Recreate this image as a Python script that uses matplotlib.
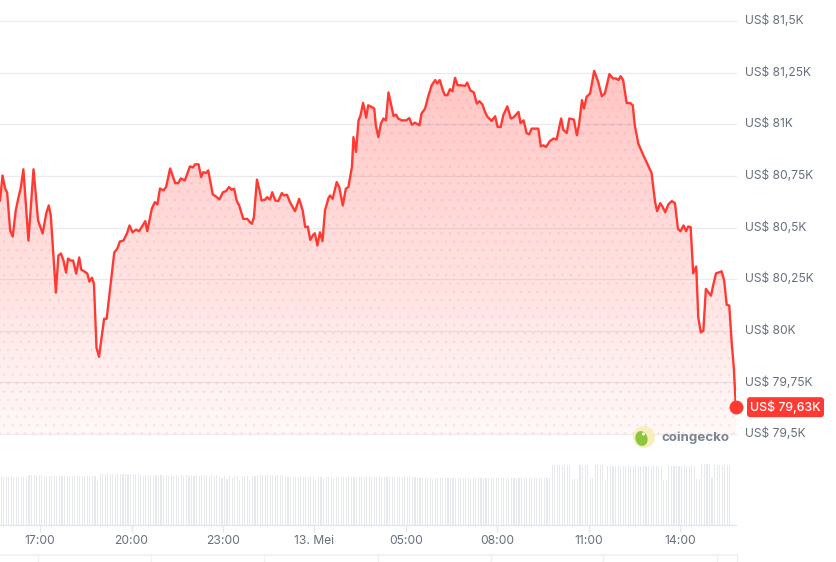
import numpy as np
import matplotlib
matplotlib.use("Agg")
import matplotlib.pyplot as plt
from matplotlib.patches import Polygon, Circle, FancyBboxPatch, Ellipse
from matplotlib.transforms import IdentityTransform, blended_transform_factory
from matplotlib.lines import Line2D

plt.rcParams['font.family'] = ['Inter', 'DejaVu Sans']

# ---------------- data ----------------
# minutes since 12 May 15:41
price_minutes = [
    0, 5, 10, 14, 20, 25, 31, 36, 41, 46,
    56, 66, 75, 84, 91, 96, 100, 110, 115, 120,
    125, 130, 134, 139, 144, 150, 156, 160, 167, 172,
    176, 181, 185, 190, 195, 200, 205, 210, 218, 225,
    231, 236, 243, 250, 255, 261, 268, 274, 286, 290,
    299, 305, 310, 315, 322, 327, 335, 345, 351, 356,
    364, 374, 380, 384, 391, 396, 400, 406, 410, 419,
    425, 432, 439, 445, 451, 456, 461, 466, 471, 479,
    487, 492, 496, 500, 506, 511, 515, 522, 526, 532,
    536, 542, 548, 555, 559, 565, 571, 581, 589, 596,
    601, 606, 611, 617, 620, 625, 630, 635, 640, 647,
    650, 655, 663, 668, 675, 681, 686, 693, 696, 701,
    706, 710, 715, 721, 725, 732, 737, 740, 745, 750,
    755, 760, 765, 769, 775, 780, 784, 791, 800, 806,
    811, 817, 826, 830, 837, 843, 850, 857, 861, 866,
    872, 876, 881, 886, 891, 896, 901, 907, 916, 920,
    926, 933, 939, 944, 950, 955, 960, 965, 968, 975,
    980, 986, 991, 999, 1006, 1011, 1021, 1025, 1031, 1037,
    1042, 1047, 1060, 1065, 1070, 1075, 1083, 1090, 1096, 1105,
    1109, 1116, 1121, 1130, 1136, 1140, 1146, 1150, 1155, 1162,
    1170, 1178, 1185, 1191, 1200, 1207, 1213, 1218, 1222, 1227,
    1234, 1241, 1246, 1250, 1257, 1264, 1270, 1277, 1283, 1290,
    1294, 1300, 1305, 1310, 1316, 1323, 1329, 1335, 1340, 1346,
    1351, 1355, 1360, 1365, 1371, 1375, 1380, 1385, 1390, 1395,
    1400, 1405, 1410, 1416, 1421, 1426, 1431, 1436, 1441, 1445,
    1449,
]
price_usd = [
    80631, 80752, 80689, 80670, 80486, 80456, 80583, 80641, 80694, 80782,
    80437, 80782, 80534, 80471, 80568, 80607, 80558, 80185, 80364, 80374,
    80340, 80282, 80350, 80340, 80340, 80277, 80355, 80296, 80286, 80277,
    80238, 80257, 80228, 79918, 79874, 79966, 80058, 80058, 80228, 80379,
    80398, 80432, 80437, 80471, 80510, 80477, 80490, 80482, 80531, 80482,
    80592, 80623, 80612, 80689, 80680, 80696, 80786, 80715, 80715, 80738,
    80728, 80796, 80791, 80806, 80806, 80744, 80768, 80764, 80777, 80660,
    80651, 80636, 80671, 80676, 80696, 80683, 80688, 80631, 80607, 80542,
    80542, 80526, 80518, 80550, 80732, 80680, 80631, 80635, 80647, 80635,
    80671, 80631, 80628, 80667, 80655, 80659, 80623, 80579, 80639, 80583,
    80502, 80505, 80440, 80466, 80472, 80413, 80477, 80434, 80583, 80644,
    80655, 80639, 80720, 80696, 80607, 80688, 80696, 80793, 80938, 80866,
    81019, 81044, 81104, 81032, 81092, 81084, 81076, 80995, 80938, 81003,
    81028, 81019, 81154, 81108, 81040, 81047, 81028, 81019, 81019, 81030,
    80998, 81008, 80995, 81052, 81076, 81133, 81189, 81214, 81198, 81214,
    81165, 81141, 81141, 81170, 81160, 81225, 81189, 81189, 81186, 81202,
    81165, 81154, 81100, 81112, 81096, 81060, 81036, 81024, 81016, 81039,
    80987, 80987, 81044, 81087, 81028, 81033, 81060, 81006, 81019, 80958,
    80951, 80979, 80979, 80893, 80898, 80890, 80919, 80931, 80926, 81028,
    80974, 80958, 81028, 81023, 80947, 80995, 81117, 81076, 81133, 81149,
    81259, 81205, 81136, 81149, 81243, 81222, 81222, 81214, 81233, 81214,
    81103, 81103, 81092, 80995, 80906, 80866, 80834, 80796, 80764, 80623,
    80579, 80618, 80599, 80574, 80612, 80628, 80618, 80494, 80482, 80510,
    80482, 80505, 80502, 80278, 80311, 80065, 79992, 80000, 80203, 80186,
    80170, 80227, 80278, 80283, 80288, 80243, 80126, 80122, 79936, 79822,
    79630,
]

# volume bars, one per 5 minutes (relative scale)
volume = [
    48, 48, 48, 48, 48, 48, 48, 48, 48, 48, 48, 50,
    50, 50, 50, 50, 50, 49, 49, 49, 49, 49, 49, 49,
    49, 49, 49, 49, 49, 49, 49, 49, 49, 49, 49, 49,
    49, 49, 44, 51, 51, 51, 51, 51, 51, 51, 51, 51,
    51, 51, 51, 51, 51, 51, 51, 50, 49, 50, 49, 50,
    49, 50, 49, 50, 49, 50, 49, 50, 49, 50, 49, 50,
    49, 50, 49, 50, 49, 50, 49, 50, 49, 50, 49, 50,
    49, 50, 49, 47, 49, 46, 49, 47, 49, 49, 45, 49,
    49, 49, 45, 49, 49, 50, 50, 50, 50, 50, 50, 50,
    50, 50, 50, 50, 48, 48, 48, 48, 48, 48, 48, 48,
    48, 48, 48, 48, 45, 48, 48, 46, 48, 48, 48, 46,
    48, 48, 48, 48, 48, 48, 48, 48, 48, 48, 48, 48,
    48, 48, 48, 48, 48, 48, 48, 48, 48, 48, 48, 48,
    48, 48, 48, 48, 48, 48, 48, 48, 47, 47, 47, 47,
    47, 47, 46, 47, 47, 47, 47, 47, 47, 47, 47, 47,
    47, 47, 47, 47, 47, 46, 47, 47, 47, 47, 47, 47,
    47, 47, 47, 47, 47, 47, 47, 46, 47, 47, 47, 47,
    47, 47, 47, 47, 47, 47, 47, 47, 47, 47, 47, 47,
    47, 60, 60, 60, 60, 60, 60, 60, 60, 46, 46, 46,
    60, 60, 60, 60, 47, 47, 60, 60, 60, 60, 45, 59,
    59, 59, 59, 59, 59, 59, 59, 59, 59, 59, 59, 59,
    59, 59, 59, 59, 59, 59, 59, 59, 59, 45, 45, 59,
    59, 59, 59, 59, 59, 59, 59, 59, 59, 59, 46, 46,
    61, 61, 61, 61, 47, 60, 60, 60, 60, 60, 60, 60,
]

x_ticks_min = [79, 259, 439, 619, 799, 979, 1159, 1339]
x_tick_labels = ['17:00', '20:00', '23:00', '13. Mei', '05:00', '08:00', '11:00', '14:00']
y_ticks = [81500, 81250, 81000, 80750, 80500, 80250, 80000, 79750, 79500]
y_tick_labels = ['US$ 81,5K', 'US$ 81,25K', 'US$ 81K', 'US$ 80,75K', 'US$ 80,5K',
                 'US$ 80,25K', 'US$ 80K', 'US$ 79,75K', 'US$ 79,5K']
last_label = 'US$ 79,63K'

# ---------------- style ----------------
RED = '#ff3a33'
GRID = '#e9ebef'
LABEL = '#67707d'
W, H = 837, 562
XMAX = 1449.3

fig = plt.figure(figsize=(W / 100, H / 100), dpi=100)
fig.patch.set_facecolor('white')

ax = fig.add_axes([0, 1 - 434 / H, 736 / W, 434 / H])
ax.set_xlim(0, XMAX)
ax.set_ylim(79500, 81602)
ax.axis('off')

for v in y_ticks:
    ax.axhline(v, color=GRID, lw=0.9, zorder=0, clip_on=False)

t = np.array(price_minutes, dtype=float)
p = np.array(price_usd, dtype=float)

verts = [(t[0], 79500)] + list(zip(t, p)) + [(t[-1], 79500)]
clip_poly = Polygon(verts, closed=True, facecolor='none', edgecolor='none')
ax.add_patch(clip_poly)

# vertical gradient fill
n = 256
alpha = np.linspace(0.30, 0.035, n)
rgba = np.zeros((n, 1, 4))
rgba[..., 0] = 1.0
rgba[..., 1] = 58 / 255
rgba[..., 2] = 51 / 255
rgba[:, 0, 3] = alpha
im = ax.imshow(rgba, extent=[0, XMAX, 79500, 81300], aspect='auto',
               origin='upper', zorder=1, interpolation='bilinear')
im.set_clip_path(clip_poly)

# dotted texture
plt.rcParams['hatch.linewidth'] = 0.8
dots = Polygon(verts, closed=True, facecolor='none',
               edgecolor=(1.0, 0.23, 0.2, 0.08), lw=0, hatch='..', zorder=2)
ax.add_patch(dots)

ax.plot(t, p, color=RED, lw=1.7, solid_joinstyle='round', zorder=3)
ax.plot([t[-1]], [p[-1]], 'o', color=RED, ms=9, zorder=4, clip_on=False)

# y labels
btf = blended_transform_factory(fig.transFigure, ax.transData)
for v, lab in zip(y_ticks, y_tick_labels):
    fig.text(745 / W, v, lab, transform=btf, ha='left', va='center',
             fontsize=8.7, color=LABEL)

# last price badge
yl = ax.transData.transform((0, p[-1]))[1]
badge = FancyBboxPatch((747, yl - 10), 77, 20,
                       boxstyle='round,pad=0,rounding_size=3',
                       transform=IdentityTransform(), facecolor=RED,
                       edgecolor='none')
fig.patches.append(badge)
fig.text(785.5 / W, yl / H, last_label, ha='center', va='center',
         fontsize=8.9, color='white', fontweight='medium')

# coingecko logo
cx, cy = 644, H - 437
fig.patches.append(Circle((cx, cy), 11, transform=IdentityTransform(),
                          facecolor='#f7eebc', edgecolor='none'))
fig.patches.append(Ellipse((cx - 2.5, cy - 1.5), 12, 15, angle=15,
                           transform=IdentityTransform(),
                           facecolor='#8cc63f', edgecolor='none'))
fig.patches.append(Circle((cx - 0.5, cy + 3), 1.5, transform=IdentityTransform(),
                          facecolor='white', edgecolor='none'))
fig.text(662 / W, 1 - 437.5 / H, 'coingecko', ha='left', va='center',
         fontsize=9.6, fontweight='bold', color='#7c8491')

# volume axes
vax = fig.add_axes([0, 1 - 525 / H, 736 / W, 70 / H])
vax.set_xlim(0, XMAX)
vax.set_ylim(0, 70)
vol_t = np.arange(len(volume)) * 5.0 + 1.0
vax.bar(vol_t, volume, width=2.2, color='#e6e9ee', align='edge', lw=0)
for s in ['top', 'left', 'right']:
    vax.spines[s].set_visible(False)
vax.spines['bottom'].set_color('#e3e6ea')
vax.spines['bottom'].set_linewidth(1.0)
vax.set_yticks([])
vax.set_xticks(x_ticks_min)
vax.set_xticklabels(x_tick_labels)
vax.tick_params(axis='x', length=5, width=0.9, color='#e3e6ea',
                labelsize=8.7, labelcolor=LABEL, pad=2.5)
vax.patch.set_alpha(0)

# bottom strip (navigator remnants)
line_y = H - 555
fig.lines.append(Line2D([0, 737], [line_y, line_y], transform=IdentityTransform(),
                        color='#eef0f3', lw=1.2))
for xs in [38, 151, 264, 378, 491, 603, 717, 737]:
    fig.lines.append(Line2D([xs, xs], [0, line_y], transform=IdentityTransform(),
                            color='#eef0f3', lw=1.0))

fig.savefig('out.png', dpi=100, facecolor='white')
